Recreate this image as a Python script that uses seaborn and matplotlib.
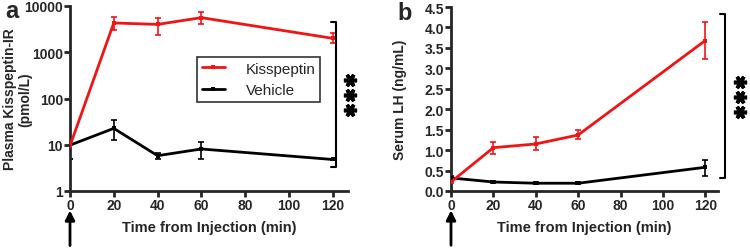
import numpy as np
import matplotlib
matplotlib.use("Agg")
import matplotlib.pyplot as plt
import pandas as pd
import seaborn as sns

sns.set_style("ticks")
plt.rcParams['font.family'] = ['Liberation Sans', 'DejaVu Sans']
plt.rcParams['font.weight'] = 'bold'

# data
time = [0, 20, 40, 60, 120]
kiss_a = [9.5, 4300, 4000, 5600, 2000]
kiss_a_lo = [5.0, 3000, 2400, 4000, 1600]
kiss_a_hi = [14.0, 5800, 5500, 7400, 2600]
veh_a = [9.8, 22.6, 5.8, 8.1, 4.8]
veh_a_lo = [4.8, 12.6, 5.0, 4.8, 4.6]
veh_a_hi = [13.7, 34.0, 6.7, 11.6, 5.0]

kiss_b = [0.22, 1.06, 1.15, 1.37, 3.68]
kiss_b_lo = [0.20, 0.90, 1.00, 1.27, 3.22]
kiss_b_hi = [0.24, 1.21, 1.32, 1.48, 4.14]
veh_b = [0.32, 0.22, 0.19, 0.19, 0.58]
veh_b_lo = [0.28, 0.19, 0.17, 0.17, 0.37]
veh_b_hi = [0.36, 0.25, 0.21, 0.21, 0.77]

groups = ["Kisspeptin", "Vehicle"]
colors = {"Kisspeptin": "#f01414", "Vehicle": "black"}


def make_df(k, klo, khi, v, vlo, vhi):
    rows = []
    for g, m, lo, hi in [("Kisspeptin", k, klo, khi), ("Vehicle", v, vlo, vhi)]:
        for t, a, b, c in zip(time, m, lo, hi):
            rows.append(dict(time=t, value=a, lo=b, hi=c, group=g))
    return pd.DataFrame(rows)


df_a = make_df(kiss_a, kiss_a_lo, kiss_a_hi, veh_a, veh_a_lo, veh_a_hi)
df_b = make_df(kiss_b, kiss_b_lo, kiss_b_hi, veh_b, veh_b_lo, veh_b_hi)

fig = plt.figure(figsize=(7.5, 2.51), dpi=100)
ax_a = fig.add_axes([70 / 750, 1 - 192 / 251, 278 / 750, 185 / 251])
ax_b = fig.add_axes([451 / 750, 1 - 192 / 251, 267 / 750, 184 / 251])


def draw(ax, df, legend):
    sns.lineplot(ax=ax, data=df, x="time", y="value", hue="group",
                 hue_order=groups[::-1], palette=colors, marker="s",
                 markersize=3, markeredgewidth=0, linewidth=2,
                 legend=legend, zorder=3)
    for g in groups:
        d = df[df.group == g]
        ax.errorbar(d.time, d.value, yerr=[d.value - d.lo, d.hi - d.value],
                    fmt="none", ecolor=colors[g], elinewidth=1.2,
                    capsize=2.5, capthick=1.2, zorder=2)
    for s in ["top", "right"]:
        ax.spines[s].set_visible(False)
    for s in ["left", "bottom"]:
        ax.spines[s].set_linewidth(2)
    ax.tick_params(width=2, length=4, labelsize=10, pad=1)
    ax.set_xticks([0, 20, 40, 60, 80, 100, 120])
    ax.set_xlabel("Time from Injection (min)", fontsize=10.5,
                  fontweight="bold", labelpad=6)
    # arrow marking the injection
    ax.annotate("", xy=(0, -0.09), xytext=(0, -0.31),
                xycoords=("data", "axes fraction"),
                textcoords=("data", "axes fraction"),
                arrowprops=dict(arrowstyle="-|>", color="black", lw=2,
                                mutation_scale=14))


draw(ax_a, df_a, True)
ax_a.set_yscale("log")
ax_a.set_ylim(1, 10000)
ax_a.set_xlim(0, 127)
ax_a.set_yticks([1, 10, 100, 1000, 10000])
ax_a.set_yticklabels(["1", "10", "100", "1000", "10000"])
ax_a.minorticks_off()
ax_a.set_xticks([0, 20, 40, 60, 80, 100, 120])
ax_a.set_ylabel("Plasma Kisspeptin-IR\n(pmol/L)", fontsize=10,
                fontweight="bold", linespacing=1.1)
ax_a.yaxis.set_label_coords(-0.137, 0.5)
handles, labels = ax_a.get_legend_handles_labels()
order = [labels.index(g) for g in groups]
leg = ax_a.legend([handles[i] for i in order], [labels[i] for i in order],
                  loc="upper left", bbox_to_anchor=(0.457, 0.724),
                  borderaxespad=0, frameon=True, fancybox=False,
                  edgecolor="black", fontsize=11, handlelength=1.5,
                  handletextpad=1.4, borderpad=0.3, labelspacing=0.5)
leg.get_frame().set_linewidth(1.2)
for t in leg.get_texts():
    t.set_fontweight("normal")

draw(ax_b, df_b, False)
ax_b.set_ylim(0, 4.5)
ax_b.set_xlim(0, 126)
ax_b.set_yticks(np.arange(0, 4.51, 0.5))
ax_b.set_yticklabels([f"{v:.1f}" for v in np.arange(0, 4.51, 0.5)])
ax_b.set_ylabel("Serum LH (ng/mL)", fontsize=10, fontweight="bold")
ax_b.yaxis.set_label_coords(-0.165, 0.5)

for ax in (ax_a, ax_b):
    for lab in ax.get_xticklabels() + ax.get_yticklabels():
        lab.set_fontweight("bold")


# significance brackets with stacked asterisks
def bracket(x, xl, y0, y1, sx, sys):
    fx = lambda p: p / 750
    fy = lambda p: 1 - p / 251
    fig.add_artist(plt.Line2D([fx(xl), fx(x), fx(x), fx(xl)],
                              [fy(y0), fy(y0), fy(y1), fy(y1)],
                              color="black", lw=1.5))
    for sy in sys:
        fig.add_artist(plt.Line2D([fx(sx)], [fy(sy)], marker=(6, 2, 90),
                                  markersize=9.5, markeredgewidth=2.6,
                                  color="black", linestyle="none"))


bracket(336, 331, 23, 168, 350, [81, 96, 111])
bracket(725, 720, 15, 179, 740, [83, 98, 113])

fig.text(12 / 750, 1 - 12 / 251, "a", fontsize=17, fontweight="bold",
         ha="center", va="center")
fig.text(405 / 750, 1 - 14 / 251, "b", fontsize=17, fontweight="bold",
         ha="center", va="center")

fig.savefig("out.png", dpi=100)
